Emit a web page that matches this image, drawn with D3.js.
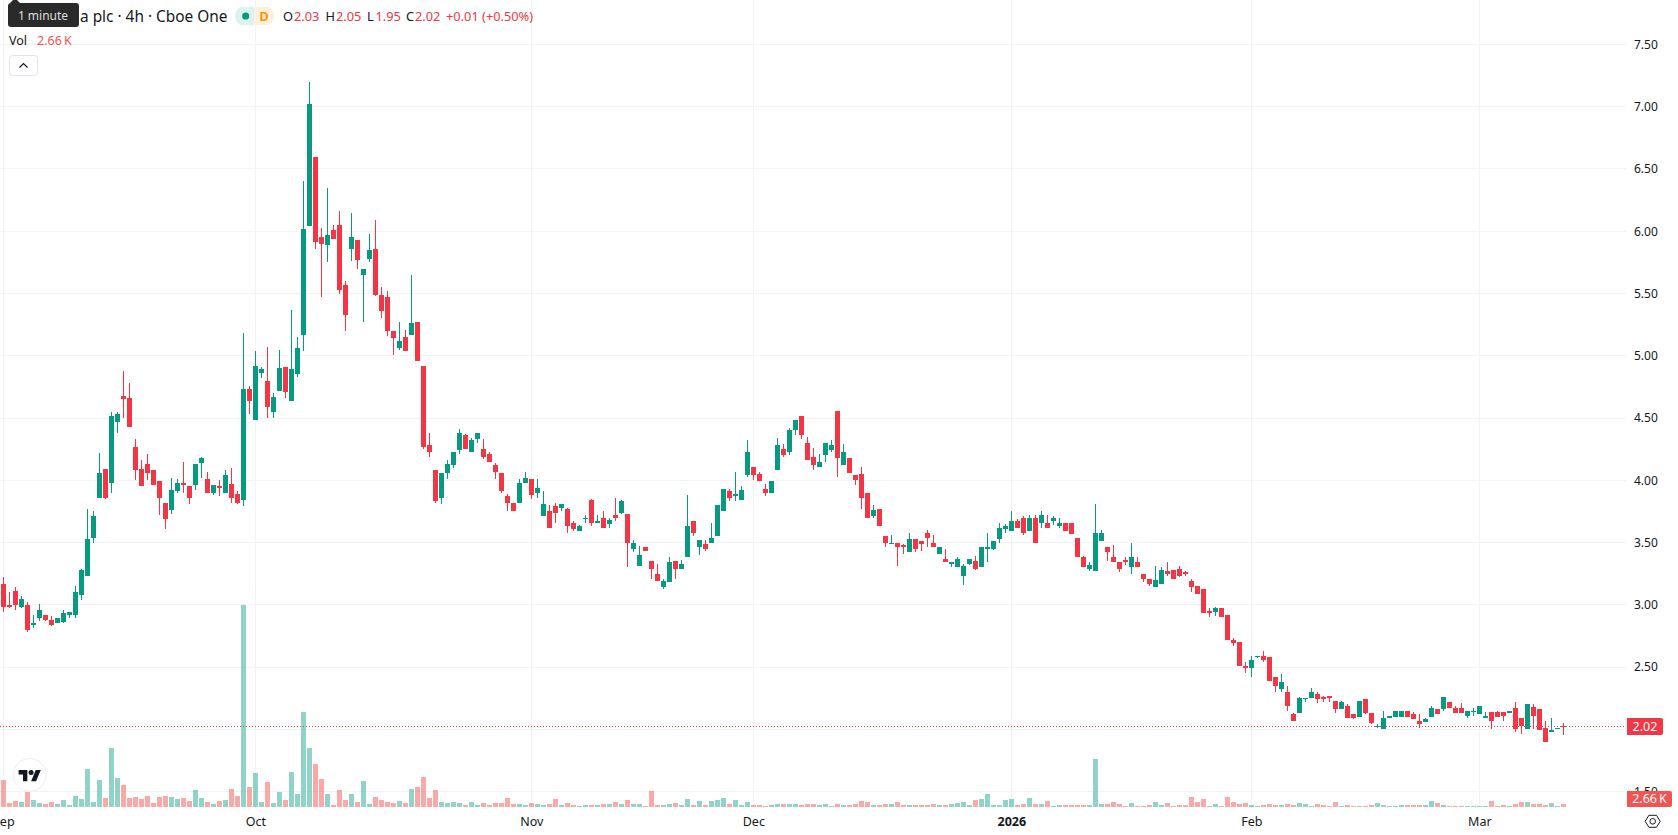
<!DOCTYPE html>
<html>
<head>
<meta charset="utf-8">
<title>4h candlestick chart</title>
<script src="https://cdn.jsdelivr.net/npm/d3@7/dist/d3.min.js"></script>
<style>
html,body{margin:0;padding:0;background:#fff;overflow:hidden}
svg{display:block}
text{font-family:"Noto Sans",sans-serif;font-size:12px}
</style>
</head>
<body>
<svg id="chart" width="1678" height="835"></svg>
<script>
// Open, high, low, close and volume (thousands) of each 4h session, oldest first.
const opens = [
3.17,3.00,3.11,2.98,3.00,2.84,2.89,2.92,2.88,2.85,
2.86,2.92,2.92,3.08,3.23,3.54,3.86,4.09,3.98,4.47,
4.68,4.66,4.27,4.09,4.13,4.08,3.99,3.82,3.76,3.91,
3.98,3.95,3.96,4.14,4.01,3.90,3.95,3.90,3.97,3.89,
3.84,4.73,4.48,4.86,4.80,4.55,4.72,4.91,4.64,4.85,
5.17,6.04,6.60,5.95,5.89,6.01,6.05,5.57,5.86,5.93,
5.65,5.78,5.86,5.49,5.47,5.20,5.06,5.15,5.17,5.27,
4.92,4.28,4.08,3.86,4.06,4.12,4.24,4.36,4.23,4.33,
4.25,4.21,4.12,4.06,3.87,3.82,3.82,3.98,4.01,3.90,
3.71,3.75,3.79,3.78,3.77,3.66,3.59,3.69,3.84,3.66,
3.70,3.65,3.72,3.74,3.73,3.45,3.31,3.46,3.35,3.25,
3.14,3.18,3.35,3.29,3.38,3.67,3.46,3.49,3.50,3.55,
3.75,3.91,3.87,3.84,4.04,4.11,4.05,3.93,3.90,4.08,
4.25,4.23,4.40,4.52,4.30,4.19,4.11,4.20,4.24,4.56,
4.12,4.18,4.04,4.05,3.90,3.71,3.77,3.55,3.49,3.50,
3.48,3.42,3.53,3.51,3.58,3.50,3.41,3.37,3.33,3.30,
3.23,3.33,3.35,3.30,3.45,3.45,3.53,3.61,3.59,3.67,
3.70,3.59,3.70,3.66,3.66,3.67,3.63,3.66,3.66,3.54,
3.38,3.29,3.27,3.51,3.46,3.38,3.34,3.36,3.30,3.34,
3.25,3.21,3.14,3.17,3.27,3.28,3.29,3.26,3.19,3.15,
3.13,2.95,2.94,2.97,2.92,2.72,2.70,2.51,2.49,2.58,
2.59,2.58,2.42,2.32,2.30,2.12,2.13,2.24,2.25,2.28,
2.26,2.27,2.23,2.16,2.19,2.12,2.10,2.24,2.13,2.02,
2.00,2.09,2.10,2.10,2.15,2.12,2.07,2.06,2.10,2.16,
2.16,2.22,2.17,2.17,2.11,2.14,2.12,2.09,2.14,2.14,
2.14,2.13,2.17,2.09,2.00,2.18,2.16,2.01,1.98,2.00,
2.03];

const highs = [
3.22,3.10,3.14,3.07,3.02,2.92,3.01,2.92,2.91,2.89,
2.96,2.94,3.15,3.29,3.77,3.75,4.22,4.09,4.55,4.55,
4.88,4.78,4.33,4.16,4.21,4.08,3.99,3.82,4.02,4.01,
4.15,3.95,4.13,4.19,4.07,3.96,4.00,4.08,4.10,3.91,
5.18,4.76,5.04,4.91,5.07,4.70,5.05,4.91,5.37,5.15,
6.40,7.20,6.60,6.03,6.35,6.05,6.16,5.60,6.15,5.93,
5.70,5.98,6.09,5.55,5.52,5.20,5.27,5.21,5.65,5.27,
4.92,4.38,4.08,4.06,4.16,4.23,4.41,4.37,4.34,4.38,
4.33,4.23,4.14,4.06,3.89,3.82,4.01,4.07,4.01,4.01,
3.91,3.80,3.82,3.81,3.78,3.67,3.64,3.72,3.85,3.72,
3.75,3.70,3.86,3.84,3.73,3.52,3.47,3.46,3.35,3.33,
3.21,3.38,3.35,3.36,3.88,3.67,3.52,3.52,3.66,3.80,
3.93,3.93,4.07,3.95,4.32,4.11,4.07,3.97,3.99,4.34,
4.29,4.42,4.48,4.52,4.35,4.26,4.21,4.30,4.32,4.56,
4.29,4.18,4.04,4.11,3.90,3.80,3.77,3.55,3.56,3.50,
3.49,3.58,3.53,3.51,3.60,3.56,3.46,3.45,3.34,3.38,
3.33,3.37,3.39,3.46,3.58,3.51,3.66,3.65,3.75,3.69,
3.71,3.72,3.72,3.75,3.72,3.71,3.70,3.66,3.66,3.54,
3.39,3.34,3.81,3.60,3.46,3.48,3.34,3.38,3.50,3.38,
3.25,3.21,3.31,3.30,3.34,3.28,3.31,3.27,3.21,3.15,
3.13,2.97,2.98,2.97,2.92,2.73,2.70,2.54,2.59,2.59,
2.63,2.58,2.42,2.44,2.35,2.13,2.26,2.25,2.33,2.30,
2.27,2.27,2.23,2.23,2.20,2.12,2.23,2.24,2.13,2.04,
2.15,2.11,2.15,2.15,2.15,2.14,2.12,2.09,2.19,2.16,
2.26,2.22,2.19,2.21,2.15,2.17,2.19,2.14,2.14,2.15,
2.14,2.15,2.22,2.09,2.20,2.20,2.16,2.07,2.09,2.01,
2.05];

const lows = [
2.94,2.97,2.96,2.97,2.78,2.81,2.87,2.87,2.83,2.85,
2.85,2.89,2.89,3.04,3.23,3.50,3.86,3.85,3.90,4.38,
4.50,4.43,4.00,3.95,4.00,3.96,3.72,3.61,3.73,3.90,
3.90,3.81,3.92,4.02,3.90,3.88,3.87,3.90,3.82,3.81,
3.79,4.53,4.48,4.82,4.50,4.50,4.72,4.66,4.64,4.83,
5.04,6.04,5.86,5.47,5.75,5.94,5.50,5.20,5.76,5.70,
5.27,5.75,5.48,5.30,5.16,5.01,5.05,5.04,5.17,4.96,
4.25,4.19,3.82,3.81,4.01,4.10,4.21,4.25,4.23,4.30,
4.17,4.15,4.01,3.90,3.75,3.75,3.82,3.98,3.85,3.86,
3.71,3.62,3.66,3.75,3.58,3.59,3.59,3.66,3.63,3.66,
3.62,3.62,3.67,3.73,3.30,3.42,3.31,3.43,3.21,3.19,
3.13,3.18,3.21,3.29,3.38,3.55,3.40,3.43,3.50,3.55,
3.75,3.83,3.83,3.84,4.03,4.00,3.99,3.87,3.90,4.08,
4.19,4.20,4.36,4.33,4.16,4.08,4.11,4.15,4.23,4.03,
4.12,4.06,3.96,3.77,3.70,3.70,3.63,3.46,3.49,3.31,
3.41,3.42,3.42,3.43,3.46,3.46,3.41,3.34,3.30,3.30,
3.16,3.32,3.28,3.30,3.34,3.44,3.50,3.58,3.59,3.62,
3.56,3.59,3.50,3.62,3.62,3.64,3.62,3.59,3.57,3.38,
3.30,3.27,3.27,3.51,3.35,3.34,3.26,3.32,3.25,3.30,
3.18,3.15,3.14,3.17,3.23,3.21,3.22,3.23,3.10,3.09,
2.93,2.90,2.91,2.90,2.72,2.67,2.51,2.45,2.42,2.57,
2.54,2.39,2.30,2.30,2.15,2.07,2.13,2.22,2.25,2.21,
2.22,2.22,2.13,2.16,2.09,2.08,2.10,2.12,2.04,2.01,
2.00,2.09,2.10,2.10,2.10,2.08,2.01,2.06,2.10,2.12,
2.15,2.17,2.13,2.13,2.09,2.11,2.12,2.09,2.00,2.10,
2.07,2.13,1.98,1.96,2.00,2.00,1.99,1.90,1.98,2.00,
1.95];

const closes = [
2.98,2.98,3.00,3.05,2.80,2.85,2.96,2.88,2.84,2.89,
2.93,2.94,3.10,3.28,3.53,3.71,4.06,3.86,4.52,4.53,
4.65,4.43,4.08,3.95,4.06,3.96,3.86,3.69,3.92,3.98,
3.96,3.86,4.13,4.18,3.90,3.96,3.94,4.04,3.86,3.82,
4.73,4.64,4.92,4.89,4.59,4.67,4.90,4.71,4.89,5.06,
6.02,7.02,5.91,5.90,5.97,5.94,5.53,5.33,5.95,5.77,
5.70,5.85,5.49,5.36,5.20,5.14,5.12,5.04,5.26,4.96,
4.27,4.23,3.83,4.06,4.13,4.23,4.38,4.25,4.32,4.38,
4.19,4.15,4.07,3.91,3.82,3.75,3.98,4.02,3.88,3.94,
3.81,3.62,3.74,3.81,3.63,3.61,3.63,3.70,3.66,3.67,
3.62,3.68,3.70,3.83,3.50,3.50,3.40,3.43,3.29,3.19,
3.19,3.34,3.29,3.33,3.63,3.58,3.52,3.45,3.54,3.80,
3.93,3.86,3.89,3.92,4.23,4.04,3.99,3.90,3.99,4.28,
4.20,4.40,4.48,4.36,4.16,4.12,4.15,4.30,4.28,4.18,
4.23,4.06,4.00,3.86,3.70,3.76,3.63,3.50,3.50,3.46,
3.46,3.53,3.45,3.49,3.54,3.46,3.46,3.34,3.34,3.37,
3.31,3.37,3.29,3.46,3.46,3.51,3.62,3.63,3.67,3.62,
3.58,3.70,3.50,3.72,3.62,3.70,3.66,3.59,3.57,3.38,
3.30,3.32,3.58,3.58,3.42,3.34,3.29,3.34,3.38,3.30,
3.21,3.17,3.20,3.28,3.25,3.21,3.23,3.25,3.14,3.09,
2.93,2.93,2.97,2.90,2.72,2.69,2.51,2.49,2.56,2.59,
2.56,2.39,2.35,2.38,2.19,2.07,2.25,2.25,2.30,2.24,
2.24,2.25,2.16,2.22,2.09,2.09,2.23,2.13,2.05,2.03,
2.09,2.11,2.15,2.15,2.10,2.08,2.04,2.08,2.17,2.12,
2.26,2.17,2.13,2.13,2.15,2.15,2.19,2.11,2.07,2.10,
2.11,2.15,2.00,2.03,2.20,2.11,1.99,1.90,1.99,2.01,
2.02];

const volumes = [
24,3.6,5.3,4.4,13.4,6.2,3.6,2.7,4.4,2.7,
6.2,1.8,9.8,7.1,33.8,4.4,24,8,52.5,25.8,
19.6,8,8.9,7.1,9.8,3.6,8.9,9.8,8.9,7.1,
8,5.3,15.1,8,4.4,2.7,5.3,6.2,16,9.8,
179.8,17.8,30.3,4.4,22.3,3.6,13.4,6.2,31.2,11.6,
84.6,52.5,38.3,24.9,11.6,1.8,15.1,6.2,11.6,4.4,
23.1,2.7,8.9,6.2,4.4,3.6,5.3,3.6,16,17.8,
26.7,8,15.1,4.4,3.6,4.4,3.6,1.8,4.4,1.8,
3.6,1.8,3.6,3.6,8,2.7,2.7,1.8,3.6,2.7,
1.8,2.7,7.1,1.8,3.6,1.8,0.9,1.8,1.8,1.8,
2.7,2.7,4.4,2.7,6.2,2.7,2.7,0.9,14.2,1.8,
1.8,2.7,3.6,1.8,7.1,1.8,5.3,1.8,5.3,6.2,
8,2.7,6.2,1.8,4.4,1.8,1.8,0.9,1.8,2.7,
2.7,2.7,2.7,1.8,2.7,2.7,1.8,2.7,0.9,2.7,
1.8,1.8,2.7,5.3,4.4,1.8,1.8,2.7,2.7,4.4,
1.8,1.8,1.8,1.8,1.8,2.7,1.8,1.8,2.7,3.6,
4.4,1.8,6.2,7.1,11.6,1.8,1.8,6.2,7.1,1.8,
2.7,8,2.7,2.7,5.3,0.9,1.8,1.8,1.8,1.8,
1.8,1.8,42.7,2.7,2.7,4.4,2.7,0.9,3.6,0.9,
0.9,1.8,4.4,1.8,3.6,0.9,1.8,1.8,8.9,4.4,
7.1,0.9,2.7,0.9,8.9,4.4,2.7,3.6,1.8,0.9,
1.8,2.7,1.8,1.8,2.7,1.8,3.6,2.7,0.9,2.7,
1.8,0.9,4.4,0.9,1.8,0.9,0.9,0.9,1.8,3.6,
1.8,0.9,0.9,1.8,1.8,1.8,1.8,1.8,5.3,3.6,
1.8,0.9,0.9,0.9,0.9,0.9,0.9,0.9,5.3,0.9,
1.8,0.9,2.7,4.4,4.4,2.7,2.7,1.8,3.6,0.9,
2.66];

// Axis labels: session index of each month start, and the price ticks.
const monthIndex = [0, 42, 88, 125, 168, 208, 246];
const monthLabels = ["Sep", "Oct", "Nov", "Dec", "2026", "Feb", "Mar"];
const priceTicks = [1.5, 2, 2.5, 3, 3.5, 4, 4.5, 5, 5.5, 6, 6.5, 7, 7.5];

const lastClose = closes[closes.length - 1];
const lastVolumeLabel = "2.66\u202fK";

const UP = "#089981", DOWN = "#f23645";
const VOL_UP = "#25a793", VOL_DOWN = "#f45352";
const GRID = "#f2f3f4", INK = "#131722";

const svg = d3.select("#chart");

const x = d3.scaleLinear().domain([0, closes.length - 1]).range([3.3, 1563.3]);
const y = d3.scaleLinear().domain([1.5, 7.5]).range([791.5, 44.5]);
const yVol = d3.scaleLinear().domain([0, 180]).range([807, 605]);

const px = i => Math.floor(x(i));
const isUp = i => closes[i] >= opens[i];
const idx = d3.range(closes.length);

// Grid
const grid = svg.append("g").attr("shape-rendering", "crispEdges");
grid.selectAll(".h").data(priceTicks).join("rect")
  .attr("x", 0).attr("width", 1626)
  .attr("y", d => Math.floor(y(d))).attr("height", 1).attr("fill", GRID);
grid.selectAll(".v").data(monthIndex).join("rect")
  .attr("x", d => px(d)).attr("width", 1)
  .attr("y", 0).attr("height", 809).attr("fill", GRID);

// Volume histogram
svg.append("g").attr("shape-rendering", "crispEdges")
  .selectAll("rect").data(idx).join("rect")
  .attr("x", i => px(i) - 2).attr("width", 5)
  .attr("y", i => Math.round(yVol(volumes[i])))
  .attr("height", i => 807 - Math.round(yVol(volumes[i])))
  .attr("fill", i => isUp(i) ? VOL_UP : VOL_DOWN)
  .attr("fill-opacity", 0.5);

// Candles
const candles = svg.append("g").attr("shape-rendering", "crispEdges");
candles.selectAll(".wick").data(idx).join("rect")
  .attr("x", i => px(i)).attr("width", 1)
  .attr("y", i => Math.round(y(highs[i])))
  .attr("height", i => Math.max(1, Math.round(y(lows[i])) - Math.round(y(highs[i]))))
  .attr("fill", i => isUp(i) ? UP : DOWN);
candles.selectAll(".body").data(idx).join("rect")
  .attr("x", i => px(i) - 2).attr("width", 5)
  .attr("y", i => Math.round(y(Math.max(opens[i], closes[i]))))
  .attr("height", i => Math.max(1, Math.round(y(Math.min(opens[i], closes[i]))) - Math.round(y(Math.max(opens[i], closes[i])))))
  .attr("fill", i => isUp(i) ? UP : DOWN);

// Last price line
svg.append("line")
  .attr("x1", 0).attr("x2", 1624)
  .attr("y1", Math.floor(y(lastClose)) + 0.5).attr("y2", Math.floor(y(lastClose)) + 0.5)
  .attr("stroke", DOWN).attr("stroke-width", 1).attr("stroke-dasharray", "1 2");

// Price axis
const priceAxis = d3.axisRight(y).tickValues(priceTicks).tickFormat(d3.format(".2f")).tickSize(0).tickPadding(0);
const pa = svg.append("g").attr("transform", "translate(1634,0)").call(priceAxis);
pa.select(".domain").remove();
pa.selectAll("text").attr("fill", INK).style("font-size", "12px").style("font-family", '"Noto Sans",sans-serif');

// Time axis
const timeAxis = d3.axisBottom(x).tickValues(monthIndex)
  .tickFormat(d => monthLabels[monthIndex.indexOf(d)]).tickSize(0).tickPadding(0);
const ta = svg.append("g").attr("transform", "translate(0,817)").call(timeAxis);
ta.select(".domain").remove();
ta.selectAll("text").attr("fill", INK).style("font-size", "12.5px").style("font-family", '"Noto Sans",sans-serif')
  .style("font-weight", (d, i) => monthLabels[i] === "2026" ? "700" : "400");

// Value tags on the price scale
function tag(x0, x1, y0, y1, fill, label) {
  svg.append("path")
    .attr("d", `M${x0},${y0}H${x1 - 2}Q${x1},${y0} ${x1},${y0 + 2}V${y1 - 2}Q${x1},${y1} ${x1 - 2},${y1}H${x0}Z`)
    .attr("fill", fill);
  svg.append("text").attr("x", (x0 + x1) / 2).attr("y", (y0 + y1) / 2 + 4.4)
    .attr("text-anchor", "middle").attr("fill", "#fff").style("font-size", "12.5px").text(label);
}
tag(1627, 1663, 718, 735, DOWN, d3.format(".2f")(lastClose));
tag(1627, 1672, 791, 807, VOL_DOWN, lastVolumeLabel);

// Chart settings icon
const gear = svg.append("g").attr("transform", "translate(1652.7,821.3)")
  .attr("fill", "none").attr("stroke", INK).attr("stroke-width", 1);
gear.append("path").attr("d", "M-7.5,0L-3.8,-6H3.8L7.5,0L3.8,6H-3.8Z");
gear.append("circle").attr("r", 2.8);

// Watermark badge
const badge = svg.append("g");
badge.append("circle").attr("cx", 29.7).attr("cy", 775).attr("r", 16.5)
  .attr("fill", "#fff").attr("stroke", "#eeeeee").attr("stroke-width", 1);
const glyph = badge.append("g").attr("transform", "translate(18.6,767.5) scale(0.625)").attr("fill", "#131722");
glyph.append("path").attr("d", "M14 22H7V11H0V4h14v18zM28 22h-8l7.5-18h8L28 22z");
glyph.append("circle").attr("cx", 20).attr("cy", 8).attr("r", 4);

// Legend row
svg.append("text").attr("x", 80).attr("y", 21.5).attr("fill", INK).style("font-size", "15.4px").text("a plc · 4h · Cboe One");

svg.append("path").attr("d", "M242,7H254.5V25H242A7,9 0 0 1 235,16A7,9 0 0 1 242,7Z").attr("fill", "#dcf2ee");
svg.append("path").attr("d", "M254.5,7H267A7,9 0 0 1 274,16A7,9 0 0 1 267,25H254.5Z").attr("fill", "#fff0dd");
svg.append("circle").attr("cx", 245.7).attr("cy", 16).attr("r", 3.6).attr("fill", UP);
svg.append("text").attr("x", 264).attr("y", 20.5).attr("text-anchor", "middle")
  .attr("fill", "#ff9800").style("font-size", "13px").style("font-weight", "700").text("D");

const legendLetters = [["O", 283], ["H", 325.5], ["L", 367], ["C", 406]];
const legendValues = [[opens[260], 294], [highs[260], 336], [lows[260], 375.5], [closes[260], 415]];
svg.append("g").selectAll("text").data(legendLetters).join("text")
  .attr("x", d => d[1]).attr("y", 21).attr("fill", INK).style("font-size", "12.8px").text(d => d[0]);
svg.append("g").selectAll("text").data(legendValues).join("text")
  .attr("x", d => d[1]).attr("y", 21).attr("fill", DOWN).style("font-size", "12.8px").text(d => d3.format(".2f")(d[0]));
svg.append("text").attr("x", 446).attr("y", 21).attr("fill", DOWN).style("font-size", "12.8px").text("+0.01 (+0.50%)");

svg.append("text").attr("x", 9).attr("y", 45).attr("fill", INK).style("font-size", "12.5px").text("Vol");
svg.append("text").attr("x", 37).attr("y", 45).attr("fill", VOL_DOWN).style("font-size", "12.5px").text(lastVolumeLabel);

// Collapse button
svg.append("rect").attr("x", 9.5).attr("y", 55.5).attr("width", 28).attr("height", 20).attr("rx", 3)
  .attr("fill", "#fff").attr("stroke", "#e0e3eb");
svg.append("path").attr("d", "M19.5,67.5L23.5,63.5L27.5,67.5").attr("fill", "none").attr("stroke", INK).attr("stroke-width", 1.2);

// Hover tooltip over the symbol name
svg.append("path").attr("d", "M10,3L13,0H17L20,3Z").attr("fill", "#2a2a2a");
svg.append("rect").attr("x", 8).attr("y", 3).attr("width", 71).attr("height", 24).attr("rx", 3).attr("fill", "#2a2a2a");
svg.append("text").attr("x", 43).attr("y", 20).attr("text-anchor", "middle").attr("fill", "#dddddd").text("1 minute");
</script>
</body>
</html>
